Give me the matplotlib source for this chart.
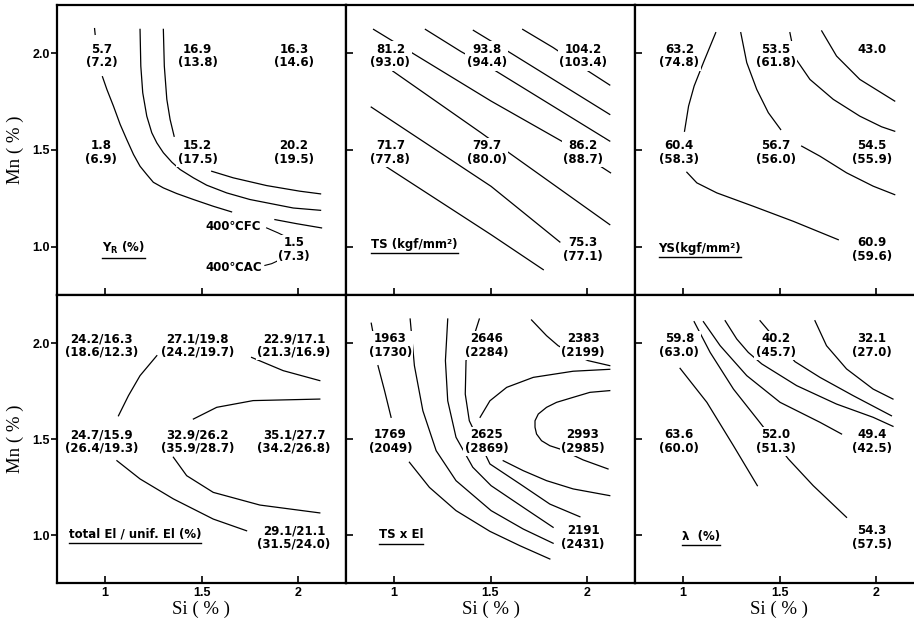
import numpy as np
import matplotlib.pyplot as plt

# grid of the measured compositions (Si %, Mn %) where the values are written
grid_si = [1.0, 1.5, 2.0, 1.0, 1.5, 2.0, 2.0]
grid_mn = [2.0, 2.0, 2.0, 1.5, 1.5, 1.5, 1.0]
si_ticks = [1, 1.5, 2]
si_ticklabels = ['1', '1.5', '2']
mn_ticks = [1.0, 1.5, 2.0]
mn_ticklabels = ['1.0', '1.5', '2.0']

# ---- retained austenite
gr_title = r'$\mathbf{Y_R}$ (%)'
gr_fc = ['5.7', '16.9', '16.3', '1.8', '15.2', '20.2', '1.5']
gr_ac = ['7.2', '13.8', '14.6', '6.9', '17.5', '19.5', '7.3']
gr_lines = [
    [(0.945, 2.128), (0.948, 2.098)],
    [(0.986, 1.879), (1.009, 1.813), (1.043, 1.727), (1.078, 1.632), (1.112, 1.554),
     (1.147, 1.477), (1.181, 1.416), (1.216, 1.373), (1.250, 1.333), (1.302, 1.304),
     (1.371, 1.275), (1.458, 1.244), (1.561, 1.209), (1.656, 1.180)],
    [(1.181, 2.124), (1.185, 1.934), (1.195, 1.796), (1.216, 1.675), (1.242, 1.589),
     (1.268, 1.537), (1.302, 1.486), (1.346, 1.437), (1.389, 1.399), (1.458, 1.356),
     (1.527, 1.318), (1.631, 1.278), (1.751, 1.244), (1.976, 1.200), (2.118, 1.188)],
    [(1.302, 2.124), (1.307, 1.934), (1.320, 1.762), (1.337, 1.658), (1.358, 1.571)],
    [(1.553, 1.390), (1.665, 1.356), (1.838, 1.316), (2.010, 1.287), (2.118, 1.273)],
    [(1.881, 1.140), (1.993, 1.119), (2.123, 1.097)],
]
gr_leaders = [
    [(1.838, 1.097), (1.898, 1.071), (1.941, 1.050)],
    [(1.829, 0.903), (1.864, 0.912), (1.890, 0.924), (1.921, 0.950)],
]
gr_notes = ['400\u2103FC', '400\u2103AC']
gr_notes_si = [1.518, 1.518]
gr_notes_mn = [1.105, 0.890]

# ---- tensile strength
ts_title = 'TS (kgf/mm\u00b2)'
ts_fc = ['81.2', '93.8', '104.2', '71.7', '79.7', '86.2', '75.3']
ts_ac = ['93.0', '94.4', '103.4', '77.8', '80.0', '88.7', '77.1']
ts_lines = [
    [(0.893, 2.124), (1.503, 1.753), (1.869, 1.546), (2.123, 1.382)],
    [(1.162, 2.124), (1.347, 2.009), (1.514, 1.917), (2.119, 1.546)],
    [(1.411, 2.119), (1.601, 2.004), (2.119, 1.684)],
    [(1.667, 2.124), (1.825, 2.030), (2.007, 1.908), (2.119, 1.836)],
    [(0.993, 1.908), (1.451, 1.589), (1.584, 1.494), (2.119, 1.114)],
    [(0.881, 1.722), (1.503, 1.312), (1.860, 1.024)],
    [(0.955, 1.416), (1.503, 1.062), (1.774, 0.881)],
]

# ---- yield strength
ys_title = 'YS(kgf/mm\u00b2)'
ys_fc = ['63.2', '53.5', '43.0', '60.4', '56.7', '54.5', '60.9']
ys_ac = ['74.8', '61.8', '', '58.3', '56.0', '55.9', '59.6']
ys_lines = [
    [(1.169, 2.107), (1.105, 1.952), (1.057, 1.831), (1.028, 1.727), (1.007, 1.597)],
    [(1.299, 2.107), (1.330, 1.952), (1.382, 1.813), (1.442, 1.693), (1.506, 1.606)],
    [(1.554, 2.107), (1.580, 1.978), (1.658, 1.865), (1.779, 1.762), (1.917, 1.675),
     (2.030, 1.620), (2.098, 1.597)],
    [(1.615, 1.520), (1.710, 1.468), (1.848, 1.382), (1.986, 1.313), (2.098, 1.269)],
    [(1.719, 2.116), (1.796, 1.986), (1.917, 1.865), (2.098, 1.753)],
    [(1.019, 1.385), (1.071, 1.330), (1.175, 1.278), (1.364, 1.209), (1.572, 1.131),
     (1.805, 1.036)],
]

# ---- elongation
el_title = 'total El / unif. El (%)'
el_fc = ['24.2/16.3', '27.1/19.8', '22.9/17.1', '24.7/15.9', '32.9/26.2', '35.1/27.7', '29.1/21.1']
el_ac = ['18.6/12.3', '24.2/19.7', '21.3/16.9', '26.4/19.3', '35.9/28.7', '34.2/26.8', '31.5/24.0']
el_lines = [
    [(1.268, 1.934), (1.181, 1.830), (1.121, 1.726), (1.069, 1.621)],
    [(1.760, 1.925), (1.924, 1.856), (2.114, 1.804)],
    [(1.458, 1.604), (1.579, 1.665), (1.768, 1.700), (2.114, 1.708)],
    [(1.354, 1.405), (1.423, 1.309), (1.561, 1.222), (1.803, 1.156), (2.114, 1.115)],
    [(1.061, 1.387), (1.181, 1.292), (1.354, 1.188), (1.561, 1.083), (1.734, 1.022)],
]

# ---- TS x El
tsel_title = 'TS x El'
tsel_fc = ['1963', '2646', '2383', '1769', '2625', '2993', '2191']
tsel_ac = ['1730', '2284', '2199', '2049', '2869', '2985', '2431']
tsel_lines = [
    [(0.881, 2.103), (0.893, 2.038)],
    [(0.916, 1.882), (0.950, 1.752), (0.984, 1.613)],
    [(1.079, 1.379), (1.183, 1.248), (1.321, 1.127), (1.497, 1.019), (1.653, 0.944), (1.808, 0.875)],
    [(1.083, 2.125), (1.105, 1.882), (1.149, 1.647), (1.218, 1.439), (1.321, 1.283),
     (1.503, 1.127), (1.670, 1.031), (1.825, 0.957)],
    [(1.278, 2.125), (1.266, 1.908), (1.278, 1.699), (1.321, 1.509), (1.408, 1.353),
     (1.503, 1.257), (1.670, 1.144), (1.825, 1.040)],
    [(1.442, 2.125), (1.373, 1.908), (1.369, 1.734), (1.390, 1.595), (1.497, 1.370),
     (1.653, 1.266), (1.808, 1.161), (1.964, 1.095)],
    [(1.446, 1.613), (1.497, 1.699), (1.584, 1.769), (1.722, 1.821), (1.929, 1.853), (2.119, 1.863)],
    [(1.713, 2.120), (1.791, 2.038), (1.851, 1.986), (1.938, 1.938), (2.007, 1.908), (2.119, 1.882)],
    [(2.119, 1.752), (2.016, 1.743), (1.929, 1.717), (1.843, 1.691), (1.791, 1.665),
     (1.748, 1.630), (1.731, 1.595), (1.731, 1.561), (1.739, 1.526), (1.765, 1.491),
     (1.808, 1.465), (1.860, 1.448), (1.981, 1.391), (2.110, 1.344)],
    [(1.566, 1.387), (1.670, 1.335), (1.791, 1.283), (1.929, 1.240), (2.119, 1.205)],
]

# ---- hole expansion
lam_title = '\u03bb  (%)'
lam_fc = ['59.8', '40.2', '32.1', '63.6', '52.0', '49.4', '54.3']
lam_ac = ['63.0', '45.7', '27.0', '60.0', '51.3', '42.5', '57.5']
lam_lines = [
    [(0.984, 1.868), (1.123, 1.691), (1.261, 1.465), (1.385, 1.257)],
    [(1.057, 2.111), (1.140, 1.951), (1.261, 1.760), (1.391, 1.595), (1.546, 1.396),
     (1.675, 1.257), (1.848, 1.092)],
    [(1.105, 2.111), (1.192, 1.986), (1.330, 1.830), (1.503, 1.691), (1.710, 1.587), (1.822, 1.526)],
    [(1.218, 2.116), (1.278, 2.021), (1.338, 1.951), (1.408, 1.891), (1.589, 1.778),
     (1.796, 1.682), (1.986, 1.613), (2.089, 1.566)],
    [(1.399, 2.116), (1.580, 1.903), (1.710, 1.821), (1.882, 1.726), (2.081, 1.621)],
    [(1.684, 2.116), (1.744, 1.986), (1.848, 1.865), (1.986, 1.760), (2.089, 1.708)],
]

# title anchor (left edge, centre height)
title_si = [0.983, 0.881, 0.872, 0.810, 0.919, 0.993]
title_mn = [0.993, 1.010, 0.993, 1.005, 1.000, 0.990]

panels = [
    (gr_title, gr_fc, gr_ac, gr_lines),
    (ts_title, ts_fc, ts_ac, ts_lines),
    (ys_title, ys_fc, ys_ac, ys_lines),
    (el_title, el_fc, el_ac, el_lines),
    (tsel_title, tsel_fc, tsel_ac, tsel_lines),
    (lam_title, lam_fc, lam_ac, lam_lines),
]

W, H = 914, 622
fig = plt.figure(figsize=(W / 100, H / 100), dpi=100)
fig.patch.set_facecolor('white')

lefts = [57, 346, 635]
rows = [(5, 295), (295, 583)]
num_font = dict(family='DejaVu Sans', fontsize=8.5, fontweight='bold')
tick_font = dict(family='Liberation Sans', fontsize=9, fontweight='bold')
serif_font = dict(family='Liberation Serif', fontsize=13.5)

axes = []
titles = []
for k, (title, fc, ac, lines) in enumerate(panels):
    r, c = divmod(k, 3)
    top, bot = rows[r]
    ax = fig.add_axes([lefts[c] / W, (H - bot) / H, 289 / W, (bot - top) / H])
    axes.append(ax)
    ax.set_xlim(0.75, 2.25)
    ax.set_ylim(0.75, 2.25)
    for s in ax.spines.values():
        s.set_linewidth(1.6)

    for ln in lines:
        ln = np.array(ln)
        ax.plot(ln[:, 0], ln[:, 1], color='black', lw=0.9, zorder=2)

    for si, mn, a, b in zip(grid_si, grid_mn, fc, ac):
        s = a if b == '' else a + '\n(' + b + ')'
        ax.text(si - 0.02, mn + 0.055, s, ha='center', va='top', linespacing=1.05,
                bbox=dict(facecolor='white', edgecolor='none', pad=1.0), zorder=3, **num_font)

    t = ax.text(title_si[k], title_mn[k], title, ha='left', va='center', zorder=3, **num_font)
    titles.append((ax, t))

    ax.set_xticks(si_ticks)
    ax.set_yticks(mn_ticks)
    ax.tick_params(direction='in', length=5, width=1.2, top=False, right=False)
    if r == 1:
        ax.set_xticklabels(si_ticklabels, **tick_font)
        ax.tick_params(axis='x', pad=3)
        ax.set_xlabel('Si ( % )', labelpad=1, **serif_font)
    else:
        ax.set_xticklabels([])
    if c == 0:
        ax.set_yticklabels(mn_ticklabels, **tick_font)
        ax.tick_params(axis='y', direction='out', length=4, pad=1)
        ax.set_ylabel('Mn ( % )', labelpad=6, **serif_font)
    else:
        ax.set_yticklabels([])

# notes and leader lines for the 400C FC / AC label
ax0 = axes[0]
for ln in gr_leaders:
    ln = np.array(ln)
    ax0.plot(ln[:, 0], ln[:, 1], color='black', lw=0.8)
for s, si, mn in zip(gr_notes, gr_notes_si, gr_notes_mn):
    ax0.text(si, mn, s, ha='left', va='center', zorder=3, **num_font)

# underline the panel titles
fig.canvas.draw()
rend = fig.canvas.get_renderer()
for ax, t in titles:
    bb = t.get_window_extent(rend)
    inv = ax.transData.inverted()
    (x0, y0), (x1, _) = inv.transform([(bb.x0, bb.y0 - 2), (bb.x1, bb.y0 - 2)])
    ax.plot([x0, x1], [y0, y0], color='black', lw=1.0, zorder=3)

fig.savefig('out.png', dpi=100)
